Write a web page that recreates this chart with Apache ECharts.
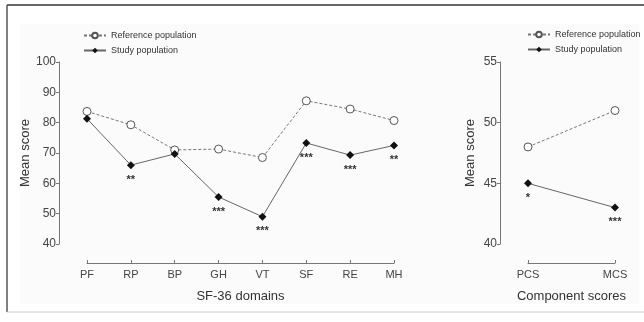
<!DOCTYPE html>
<html>
<head>
<meta charset="utf-8">
<script src="https://cdn.jsdelivr.net/npm/echarts@6/dist/echarts.min.js"></script>
<style>
  html, body { margin: 0; padding: 0; background: #fff; }
  #chart { width: 644px; height: 322px; }
</style>
</head>
<body>
<div id="chart"></div>
<script>
  // SF-36 domains
  const domains = ['PF', 'RP', 'BP', 'GH', 'VT', 'SF', 'RE', 'MH']
  const refDomains = [83.7, 79.3, 71, 71.3, 68.5, 87.2, 84.5, 80.7]
  const studyDomains = [81.3, 66, 69.7, 55.5, 49, 73.3, 69.3, 72.5]
  const sigDomains = ['', '**', '', '***', '***', '***', '***', '**']
  const domainTicks = [40, 50, 60, 70, 80, 90, 100]

  // component scores
  const components = ['PCS', 'MCS']
  const refComponents = [48, 51]
  const studyComponents = [45, 43]
  const sigComponents = ['*', '***']
  const componentTicks = [40, 45, 50, 55]

  const FONT = 'Liberation Sans, Arial, sans-serif'
  const AXIS_COLOR = '#777'

  function yAxisOf(gridIndex, ticks) {
    return {
      gridIndex: gridIndex,
      type: 'value',
      min: ticks[0],
      max: ticks[ticks.length - 1],
      interval: ticks[1] - ticks[0],
      offset: 28,
      name: 'Mean score',
      nameLocation: 'middle',
      nameGap: 23,
      nameTextStyle: { fontFamily: FONT, fontSize: 13, color: '#333' },
      splitLine: { show: false },
      axisLine: { show: true, lineStyle: { color: AXIS_COLOR, width: 1 } },
      axisTick: { show: true, length: 3, lineStyle: { color: AXIS_COLOR } },
      axisLabel: { fontFamily: FONT, fontSize: 12, color: '#444', margin: 3 }
    }
  }

  function xAxisOf(gridIndex, data, name) {
    return {
      gridIndex: gridIndex,
      type: 'category',
      data: data,
      boundaryGap: false,
      offset: 19,
      name: name,
      nameLocation: 'middle',
      nameGap: 27,
      nameTextStyle: { fontFamily: FONT, fontSize: 13, color: '#333' },
      axisLine: { show: true, lineStyle: { color: AXIS_COLOR, width: 1 } },
      axisTick: { show: true, inside: true, length: 3, alignWithLabel: true, lineStyle: { color: AXIS_COLOR } },
      axisLabel: { fontFamily: FONT, fontSize: 11, color: '#444', margin: 6 }
    }
  }

  function refSeries(idx, data) {
    return {
      name: 'Reference population',
      type: 'line',
      xAxisIndex: idx,
      yAxisIndex: idx,
      data: data,
      symbol: 'circle',
      symbolSize: 8,
      lineStyle: { color: '#777', width: 1, type: [3, 2] },
      itemStyle: { color: '#fff', borderColor: '#555', borderWidth: 1 },
      animation: false
    }
  }

  function studySeries(idx, data, sig) {
    return {
      name: 'Study population',
      type: 'line',
      xAxisIndex: idx,
      yAxisIndex: idx,
      data: data,
      symbol: 'diamond',
      symbolSize: 8,
      lineStyle: { color: '#666', width: 1 },
      itemStyle: { color: '#111' },
      label: {
        show: true,
        position: 'bottom',
        distance: 5,
        fontFamily: FONT,
        fontSize: 11,
        fontWeight: 'bold',
        color: '#333',
        formatter: function(p) {
          return sig[p.dataIndex]
        }
      },
      animation: false
    }
  }

  function legendOf(left, top) {
    return {
      left: left,
      top: top,
      orient: 'vertical',
      itemWidth: 22,
      itemHeight: 7,
      itemGap: 6,
      textStyle: { fontFamily: FONT, fontSize: 9, color: '#333' },
      data: ['Reference population', 'Study population']
    }
  }

  const myChart = echarts.init(document.getElementById('chart'))
  myChart.setOption({
    backgroundColor: '#fff',
    graphic: [
      { type: 'rect', shape: { x: 20, y: 24, width: 619, height: 280 }, style: { fill: '#fbfbfb' }, z: -10 },
      { type: 'line', shape: { x1: 7, y1: 5, x2: 644, y2: 5 }, style: { stroke: '#333', lineWidth: 1.5 }, z: -5 },
      { type: 'line', shape: { x1: 7, y1: 5, x2: 7, y2: 312 }, style: { stroke: '#555', lineWidth: 1.5 }, z: -5 },
      { type: 'line', shape: { x1: 7, y1: 312, x2: 644, y2: 312 }, style: { stroke: '#ccc', lineWidth: 1 }, z: -5 }
    ],
    legend: [legendOf(78, 26), legendOf(522, 25)],
    grid: [
      { left: 87, right: 250, top: 62, bottom: 78 },
      { left: 528, right: 29, top: 62, bottom: 78 }
    ],
    xAxis: [
      xAxisOf(0, domains, 'SF-36 domains'),
      xAxisOf(1, components, 'Component scores')
    ],
    yAxis: [
      yAxisOf(0, domainTicks),
      yAxisOf(1, componentTicks)
    ],
    series: [
      refSeries(0, refDomains),
      studySeries(0, studyDomains, sigDomains),
      refSeries(1, refComponents),
      studySeries(1, studyComponents, sigComponents)
    ]
  })
</script>
</body>
</html>
